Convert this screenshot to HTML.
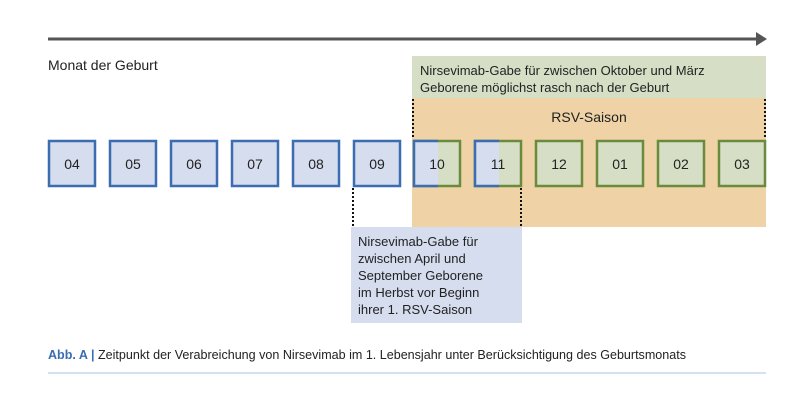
<!DOCTYPE html>
<html><head><meta charset="utf-8"><style>
body{margin:0;background:#fff;}
svg text{font-family:"Liberation Sans",sans-serif;fill:#222;}
</style></head><body>
<svg width="800" height="408" viewBox="0 0 800 408" xmlns="http://www.w3.org/2000/svg">
<line x1="48" y1="39" x2="758" y2="39" stroke="#555" stroke-width="3"/>
<polygon points="756,32 767,39 756,46" fill="#555"/>
<text x="48" y="70" font-size="14">Monat der Geburt</text>
<rect x="412" y="56" width="354" height="42" fill="#d6dfc5"/>
<text x="420" y="75" font-size="13">Nirsevimab-Gabe für zwischen Oktober und März</text>
<text x="420" y="92" font-size="13">Geborene möglichst rasch nach der Geburt</text>
<rect x="412" y="98" width="354" height="129" fill="#efd3a7"/>
<text x="589" y="122" font-size="14" text-anchor="middle">RSV-Saison</text>
<g stroke="#111" stroke-width="2" stroke-dasharray="2,2">
<line x1="413" y1="99" x2="413" y2="139"/>
<line x1="765" y1="99" x2="765" y2="139"/>
<line x1="353" y1="188" x2="353" y2="227"/>
<line x1="521" y1="188" x2="521" y2="227"/>
</g>
<rect x="351" y="227" width="171" height="96" fill="#d5ddef"/>
<g font-size="13">
<text x="358" y="246">Nirsevimab-Gabe für</text>
<text x="358" y="263">zwischen April und</text>
<text x="358" y="280">September Geborene</text>
<text x="358" y="297">im Herbst vor Beginn</text>
<text x="358" y="314">ihrer 1. RSV-Saison</text>
</g>
<g stroke-width="2.5">
<rect x="49" y="141" width="46" height="45" fill="#d5ddef" stroke="#3b6db0"/>
<rect x="110" y="141" width="46" height="45" fill="#d5ddef" stroke="#3b6db0"/>
<rect x="171" y="141" width="46" height="45" fill="#d5ddef" stroke="#3b6db0"/>
<rect x="232" y="141" width="46" height="45" fill="#d5ddef" stroke="#3b6db0"/>
<rect x="293" y="141" width="46" height="45" fill="#d5ddef" stroke="#3b6db0"/>
<rect x="354" y="141" width="46" height="45" fill="#d5ddef" stroke="#3b6db0"/>
<rect x="414" y="141" width="46" height="45" fill="#d6dfc5" stroke="#6a8a3c"/>
<rect x="414" y="141" width="24" height="45" fill="#d5ddef"/>
<polyline points="438,141 414,141 414,186 438,186" fill="none" stroke="#3b6db0"/>
<rect x="475" y="141" width="46" height="45" fill="#d6dfc5" stroke="#6a8a3c"/>
<rect x="475" y="141" width="24" height="45" fill="#d5ddef"/>
<polyline points="499,141 475,141 475,186 499,186" fill="none" stroke="#3b6db0"/>
<rect x="536" y="141" width="46" height="45" fill="#d6dfc5" stroke="#6a8a3c"/>
<rect x="597" y="141" width="46" height="45" fill="#d6dfc5" stroke="#6a8a3c"/>
<rect x="658" y="141" width="46" height="45" fill="#d6dfc5" stroke="#6a8a3c"/>
<rect x="719" y="141" width="46" height="45" fill="#d6dfc5" stroke="#6a8a3c"/>
</g>
<g font-size="14" text-anchor="middle">
<text x="72" y="169">04</text><text x="133" y="169">05</text><text x="194" y="169">06</text>
<text x="255" y="169">07</text><text x="316" y="169">08</text><text x="377" y="169">09</text>
<text x="437" y="169">10</text><text x="498" y="169">11</text><text x="559" y="169">12</text>
<text x="620" y="169">01</text><text x="681" y="169">02</text><text x="742" y="169">03</text>
</g>
<text x="48" y="359" font-size="12.5" textLength="638" lengthAdjust="spacingAndGlyphs"><tspan fill="#3b6db0" font-weight="bold">Abb. A |</tspan> Zeitpunkt der Verabreichung von Nirsevimab im 1. Lebensjahr unter Berücksichtigung des Geburtsmonats</text>
<line x1="48" y1="373" x2="766" y2="373" stroke="#a9c3e3" stroke-width="1"/>
</svg>
</body></html>
